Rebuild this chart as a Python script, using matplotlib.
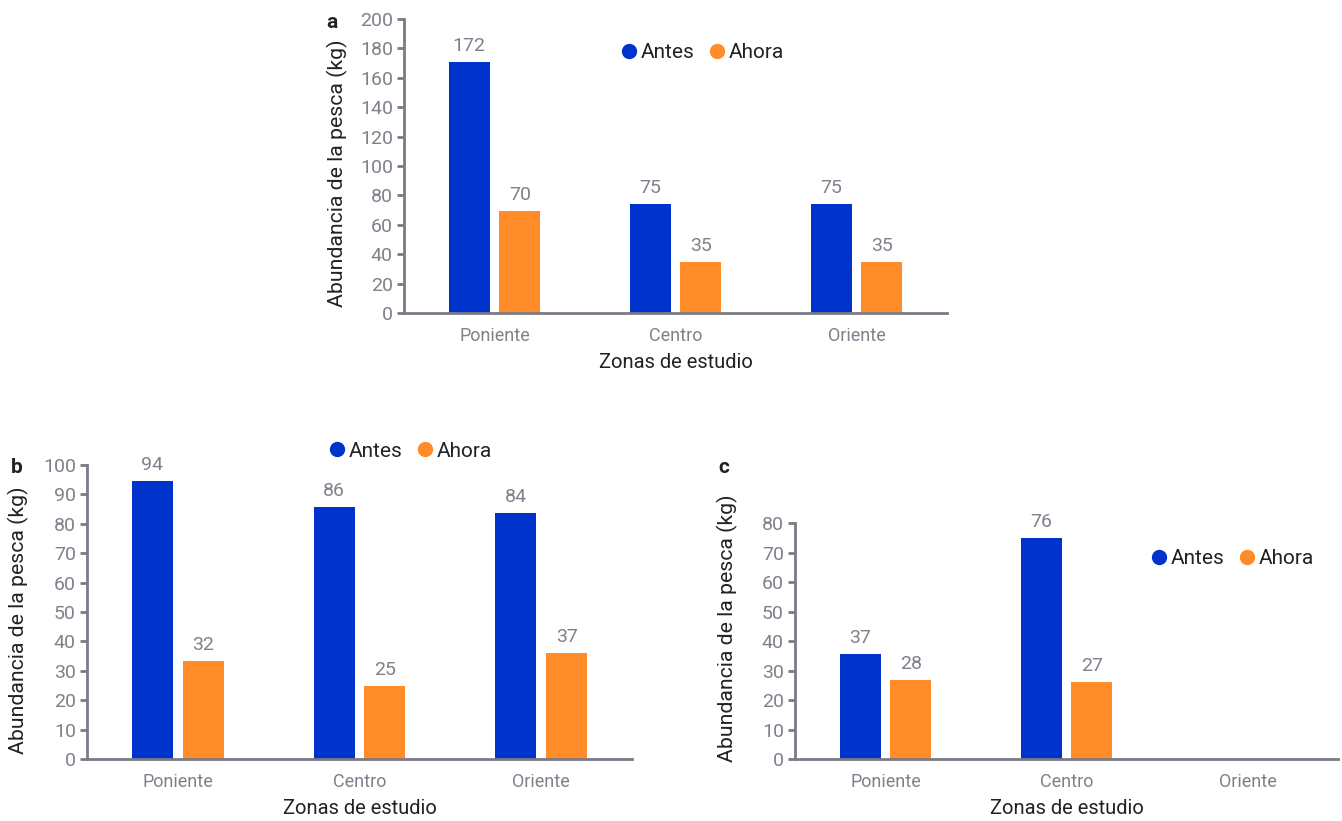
import matplotlib
matplotlib.use("Agg")
import matplotlib.pyplot as plt
from matplotlib.lines import Line2D
from matplotlib.transforms import blended_transform_factory

plt.rcParams['font.family'] = ['Roboto', 'DejaVu Sans']

zones = ["Poniente", "Centro", "Oriente"]
series = ["Antes", "Ahora"]

# Panel a
a_antes = [170.7, 74.1, 74.1]
a_ahora = [69.4, 34.7, 34.7]
a_antes_lbl = ["172", "75", "75"]
a_ahora_lbl = ["70", "35", "35"]
a_yticks = [0, 20, 40, 60, 80, 100, 120, 140, 160, 180, 200]

# Panel b
b_antes = [94.6, 85.7, 83.7]
b_ahora = [33.3, 24.8, 36.1]
b_antes_lbl = ["94", "86", "84"]
b_ahora_lbl = ["32", "25", "37"]
b_yticks = [0, 10, 20, 30, 40, 50, 60, 70, 80, 90, 100]

# Panel c (no data for Oriente)
c_antes = [35.6, 74.9, None]
c_ahora = [26.8, 26.1, None]
c_antes_lbl = ["37", "76", ""]
c_ahora_lbl = ["28", "27", ""]
c_yticks = [0, 10, 20, 30, 40, 50, 60, 70, 80]

BLUE = "#0033CC"
ORANGE = "#FF8C28"
AXC = "#7b7b86"
TICKC = "#80808c"
TXT = "#222222"

W, H = 1342, 821
fig = plt.figure(figsize=(W / 100, H / 100), dpi=100)


def px_axes(l, r, t, b):
    return fig.add_axes([l / W, 1 - b / H, (r - l) / W, (b - t) / H])


def panel(ax, antes, ahora, al, hl, yticks, legend_pos, letter, letter_pos, ylabel_right, ylabel_y):
    bw = 0.226
    off = 0.14
    for i in range(len(zones)):
        for vals, lbls, sgn, col in ((antes, al, -1, BLUE), (ahora, hl, 1, ORANGE)):
            v = vals[i]
            if v is None:
                continue
            ax.bar(i + sgn * off, v, width=bw, color=col)
            ax.annotate(lbls[i], (i + sgn * off, v), xytext=(0, 5), textcoords="offset points",
                        ha="center", va="bottom", fontsize=14, color=TICKC)
    ax.set_xlim(-0.5, 2.5)
    ax.set_ylim(0, yticks[-1])
    ax.set_yticks(yticks)
    ax.set_xticks(range(len(zones)))
    ax.set_xticklabels(zones)
    for s in ("top", "right"):
        ax.spines[s].set_visible(False)
    for s in ("left", "bottom"):
        ax.spines[s].set_color(AXC)
        ax.spines[s].set_linewidth(2.0)
    ax.tick_params(axis="y", length=5, width=2, color=AXC, labelcolor=TICKC, labelsize=14, pad=3)
    ax.tick_params(axis="x", length=0, labelcolor=TICKC, labelsize=13, pad=10)
    ax.set_xlabel("Zonas de estudio", fontsize=14.5, color=TXT, labelpad=6)
    ax.set_ylabel("Abundancia de la pesca (kg)", fontsize=15.3, color=TXT)
    tr = blended_transform_factory(fig.transFigure, ax.transAxes)
    ax.yaxis.set_label_coords(ylabel_right / W, ylabel_y, transform=tr)
    handles = [Line2D([], [], marker="o", ls="", color=BLUE, markersize=10),
               Line2D([], [], marker="o", ls="", color=ORANGE, markersize=10)]
    fig.legend(handles, series, loc="center", bbox_to_anchor=(legend_pos[0] / W, 1 - legend_pos[1] / H),
               ncol=2, frameon=False, fontsize=15, handletextpad=0.05, columnspacing=0.6,
               handlelength=1.0, labelcolor=TXT)
    fig.text(letter_pos[0] / W, 1 - letter_pos[1] / H, letter, fontsize=15, fontweight="bold",
             color=TXT, ha="left", va="center")


ax_a = px_axes(404, 947, 19, 313)
panel(ax_a, a_antes, a_ahora, a_antes_lbl, a_ahora_lbl, a_yticks, (701, 53), "a", (326, 22), 348, 0.476)

ax_b = px_axes(87, 632, 465, 759)
panel(ax_b, b_antes, b_ahora, b_antes_lbl, b_ahora_lbl, b_yticks, (409, 451), "b", (11, 467), 29, 0.473)

ax_c = px_axes(795, 1338, 523, 759)
panel(ax_c, c_antes, c_ahora, c_antes_lbl, c_ahora_lbl, c_yticks, (1231, 559), "c", (718, 467), 738, 0.553)

fig.savefig("out.png", dpi=100)
